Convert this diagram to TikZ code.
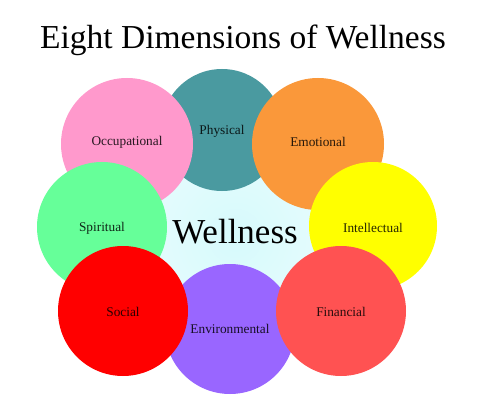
\documentclass[tikz,border=0pt]{standalone}
\usepackage{fontspec}
\setmainfont{Liberation Serif}
\definecolor{cteal}{RGB}{74,154,160}
\definecolor{cpink}{RGB}{255,153,204}
\definecolor{corange}{RGB}{250,152,58}
\definecolor{cgreen}{RGB}{102,255,153}
\definecolor{cyellow}{RGB}{255,255,0}
\definecolor{cpurple}{RGB}{153,102,255}
\definecolor{cred}{RGB}{255,0,0}
\definecolor{cfin}{RGB}{255,82,82}
\definecolor{ccyan}{RGB}{214,250,252}
\definecolor{ccyanout}{RGB}{232,252,253}
\tikzset{
  dim/.style={circle, minimum size=#1, inner sep=0pt},
  lbl/.style={font=\fontsize{13.3}{15}\selectfont},
}
\begin{document}
\begin{tikzpicture}[x=1pt,y=-1pt]
\useasboundingbox[fill=white] (0,0) rectangle (480,404);
\node[circle, minimum size=222pt, inner sep=0pt, inner color=ccyan, outer color=ccyanout] (core) at (235,236) {};
\node[dim=122pt, fill=cteal] (phys) at (222,130) {};
\node[dim=132pt, fill=cpink] (occ) at (127,144) {};
\node[dim=132pt, fill=corange] (emo) at (318,144) {};
\node[dim=130pt, fill=cgreen] (spi) at (102,227) {};
\node[dim=128pt, fill=cyellow] (int) at (373,226) {};
\node[dim=130pt, fill=cpurple] (env) at (230,329) {};
\node[dim=130pt, fill=cred] (soc) at (123,311) {};
\node[dim=130pt, fill=cfin] (fin) at (341,311) {};
\node[lbl, text=cteal!15!black] (tphys) at (222,131) {Physical};
\node[lbl, text=cpink!15!black] (tocc) at (127,142) {Occupational};
\node[lbl, text=corange!15!black] (temo) at (318,142) {Emotional};
\node[lbl, text=cgreen!15!black] (tspi) at (102,228) {Spiritual};
\node[lbl, text=cyellow!15!black] (tint) at (373,228) {Intellectual};
\node[lbl, text=cpurple!15!black] (tenv) at (230,329) {Environmental};
\node[lbl, text=cred!15!black] (tsoc) at (123,312) {Social};
\node[lbl, text=cfin!15!black] (tfin) at (341,312) {Financial};
\node[font=\fontsize{35}{38}\selectfont] (well) at (235,232) {Wellness};
\node[font=\fontsize{33.5}{38}\selectfont] (title) at (243,40) {Eight Dimensions of Wellness};
\end{tikzpicture}
\end{document}
